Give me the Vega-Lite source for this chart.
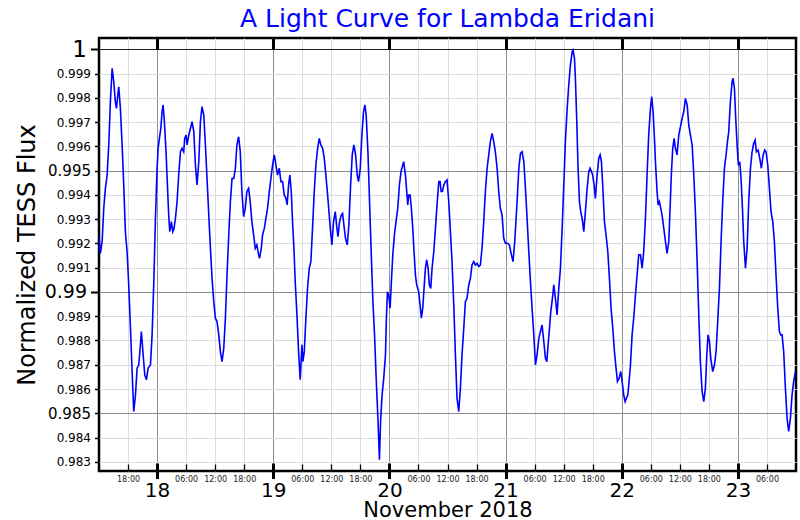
{
  "$schema": "https://vega.github.io/schema/vega-lite/v6.json",
  "width": 697,
  "height": 433,
  "autosize": {"type": "none"},
  "padding": {"left": 99, "top": 38, "right": 4, "bottom": 49},
  "background": "white",
  "title": {"text": "A Light Curve for Lambda Eridani", "font": "DejaVu Sans", "fontSize": 25, "fontWeight": "normal", "color": "#0000ff", "anchor": "middle", "frame": "group", "offset": 5},
  "config": {
    "view": {"stroke": "black", "strokeWidth": 2.5},
    "axis": {"labelFont": "DejaVu Sans", "titleFont": "DejaVu Sans", "labelColor": "black", "titleColor": "black", "titleFontWeight": "normal", "tickColor": "black", "labelFlush": false, "labelOverlap": false}
  },
  "resolve": {"axis": {"x": "independent"}},
  "layer": [
    {
      "data": {"values": [
{"day":17.501,"flux":0.99228},{"day":17.512,"flux":0.99159},{"day":17.527,"flux":0.99208},{"day":17.541,"flux":0.99345},{"day":17.555,"flux":0.99427},{"day":17.570,"flux":0.99482},{"day":17.584,"flux":0.99606},{"day":17.598,"flux":0.99784},{"day":17.613,"flux":0.99922},{"day":17.627,"flux":0.99867},{"day":17.641,"flux":0.99784},{"day":17.650,"flux":0.99757},{"day":17.662,"flux":0.99812},{"day":17.670,"flux":0.99846},{"day":17.684,"flux":0.99757},{"day":17.699,"flux":0.99606},{"day":17.713,"flux":0.99441},{"day":17.727,"flux":0.99249},{"day":17.742,"flux":0.99166},{"day":17.756,"flux":0.99029},{"day":17.771,"flux":0.98850},{"day":17.785,"flux":0.98672},{"day":17.799,"flux":0.98507},{"day":17.814,"flux":0.98576},{"day":17.828,"flux":0.98686},{"day":17.842,"flux":0.98699},{"day":17.854,"flux":0.98768},{"day":17.865,"flux":0.98837},{"day":17.880,"flux":0.98741},{"day":17.894,"flux":0.98658},{"day":17.908,"flux":0.98638},{"day":17.923,"flux":0.98686},{"day":17.943,"flux":0.98699},{"day":17.957,"flux":0.98823},{"day":17.971,"flux":0.99029},{"day":17.986,"flux":0.99304},
{"day":18.000,"flux":0.99510},{"day":18.009,"flux":0.99592},{"day":18.020,"flux":0.99633},{"day":18.032,"flux":0.99674},{"day":18.043,"flux":0.99743},{"day":18.052,"flux":0.99771},{"day":18.063,"flux":0.99702},{"day":18.077,"flux":0.99578},{"day":18.089,"flux":0.99441},{"day":18.100,"flux":0.99317},{"day":18.109,"flux":0.99249},{"day":18.123,"flux":0.99290},{"day":18.135,"flux":0.99249},{"day":18.146,"flux":0.99262},{"day":18.158,"flux":0.99304},{"day":18.172,"flux":0.99372},{"day":18.186,"flux":0.99482},{"day":18.201,"flux":0.99578},{"day":18.215,"flux":0.99592},{"day":18.229,"flux":0.99578},{"day":18.238,"flux":0.99633},{"day":18.250,"flux":0.99647},{"day":18.258,"flux":0.99606},{"day":18.273,"flux":0.99647},{"day":18.287,"flux":0.99674},{"day":18.301,"flux":0.99702},{"day":18.316,"flux":0.99661},{"day":18.330,"flux":0.99523},{"day":18.344,"flux":0.99441},{"day":18.359,"flux":0.99537},{"day":18.373,"flux":0.99702},{"day":18.387,"flux":0.99764},{"day":18.402,"flux":0.99729},{"day":18.416,"flux":0.99606},{"day":18.430,"flux":0.99468},{"day":18.445,"flux":0.99317},{"day":18.459,"flux":0.99180},{"day":18.473,"flux":0.99056},{"day":18.488,"flux":0.98960},{"day":18.502,"flux":0.98892},{"day":18.516,"flux":0.98878},{"day":18.531,"flux":0.98823},{"day":18.545,"flux":0.98754},{"day":18.559,"flux":0.98713},{"day":18.574,"flux":0.98768},{"day":18.588,"flux":0.98892},{"day":18.602,"flux":0.99070},{"day":18.617,"flux":0.99235},{"day":18.631,"flux":0.99372},{"day":18.645,"flux":0.99468},{"day":18.660,"flux":0.99468},{"day":18.674,"flux":0.99510},
{"day":18.687,"flux":0.99606},{"day":18.702,"flux":0.99640},{"day":18.716,"flux":0.99578},{"day":18.730,"flux":0.99414},{"day":18.745,"flux":0.99311},{"day":18.759,"flux":0.99345},{"day":18.773,"flux":0.99414},{"day":18.788,"flux":0.99427},{"day":18.802,"flux":0.99372},{"day":18.816,"flux":0.99290},{"day":18.831,"flux":0.99235},{"day":18.845,"flux":0.99180},{"day":18.859,"flux":0.99194},{"day":18.874,"flux":0.99153},{"day":18.882,"flux":0.99139},{"day":18.897,"flux":0.99180},{"day":18.908,"flux":0.99235},{"day":18.923,"flux":0.99262},{"day":18.937,"flux":0.99304},{"day":18.951,"flux":0.99345},{"day":18.966,"flux":0.99414},{"day":18.980,"flux":0.99468},{"day":18.994,"flux":0.99523},{"day":19.009,"flux":0.99565},{"day":19.023,"flux":0.99523},{"day":19.037,"flux":0.99482},{"day":19.052,"flux":0.99510},{"day":19.066,"flux":0.99455},{"day":19.080,"flux":0.99455},{"day":19.095,"flux":0.99400},{"day":19.109,"flux":0.99386},{"day":19.120,"flux":0.99359},{"day":19.132,"flux":0.99441},{"day":19.143,"flux":0.99482},{"day":19.155,"flux":0.99414},{"day":19.166,"flux":0.99290},{"day":19.178,"flux":0.99180},{"day":19.189,"flux":0.99043},{"day":19.204,"flux":0.98905},{"day":19.218,"flux":0.98754},{"day":19.232,"flux":0.98638},{"day":19.241,"flux":0.98727},{"day":19.247,"flux":0.98782},{"day":19.255,"flux":0.98713},{"day":19.267,"flux":0.98754},{"day":19.281,"flux":0.98892},{"day":19.295,"flux":0.99015},{"day":19.310,"flux":0.99098},{"day":19.324,"flux":0.99125},{"day":19.338,"flux":0.99262},{"day":19.353,"flux":0.99414},{"day":19.367,"flux":0.99523},{"day":19.382,"flux":0.99592},{"day":19.396,"flux":0.99633},{"day":19.410,"flux":0.99606},{"day":19.425,"flux":0.99592},{"day":19.439,"flux":0.99551},{"day":19.453,"flux":0.99482},{"day":19.468,"flux":0.99400},{"day":19.482,"flux":0.99317},{"day":19.496,"flux":0.99235},{"day":19.505,"flux":0.99194},{"day":19.519,"flux":0.99290},{"day":19.534,"flux":0.99331},{"day":19.548,"flux":0.99262},{"day":19.557,"flux":0.99228},{"day":19.571,"flux":0.99290},{"day":19.585,"flux":0.99317},{"day":19.597,"flux":0.99324},{"day":19.608,"flux":0.99276},{"day":19.622,"flux":0.99221},{"day":19.637,"flux":0.99194},{"day":19.651,"flux":0.99276},{"day":19.666,"flux":0.99441},{"day":19.680,"flux":0.99565},{"day":19.694,"flux":0.99606},{"day":19.709,"flux":0.99565},{"day":19.723,"flux":0.99482},{"day":19.734,"flux":0.99455},{"day":19.749,"flux":0.99510},{"day":19.763,"flux":0.99647},{"day":19.777,"flux":0.99743},{"day":19.789,"flux":0.99771},{"day":19.800,"flux":0.99729},{"day":19.815,"flux":0.99578},{"day":19.829,"flux":0.99372},{"day":19.843,"flux":0.99166},{"day":19.858,"flux":0.98960},{"day":19.872,"flux":0.98823},{"day":19.886,"flux":0.98644},{"day":19.901,"flux":0.98480},
{"day":19.914,"flux":0.98308},{"day":19.925,"flux":0.98480},{"day":19.937,"flux":0.98576},{"day":19.951,"flux":0.98644},{"day":19.966,"flux":0.98741},{"day":19.974,"flux":0.98892},{"day":19.983,"flux":0.99001},{"day":19.994,"flux":0.98988},{"day":20.006,"flux":0.98933},{"day":20.017,"flux":0.99043},{"day":20.029,"flux":0.99153},{"day":20.043,"flux":0.99235},{"day":20.057,"flux":0.99290},{"day":20.072,"flux":0.99345},{"day":20.086,"flux":0.99441},{"day":20.100,"flux":0.99496},{"day":20.115,"flux":0.99523},{"day":20.123,"flux":0.99537},{"day":20.138,"flux":0.99482},{"day":20.149,"flux":0.99414},{"day":20.158,"flux":0.99359},{"day":20.166,"flux":0.99400},{"day":20.178,"flux":0.99400},{"day":20.189,"flux":0.99345},{"day":20.201,"flux":0.99262},{"day":20.212,"flux":0.99166},{"day":20.224,"flux":0.99070},{"day":20.235,"flux":0.99029},{"day":20.252,"flux":0.99001},{"day":20.264,"flux":0.98947},{"day":20.275,"flux":0.98892},{"day":20.287,"flux":0.98933},{"day":20.298,"flux":0.99015},{"day":20.310,"flux":0.99098},{"day":20.321,"flux":0.99132},{"day":20.333,"flux":0.99098},{"day":20.344,"flux":0.99029},{"day":20.356,"flux":0.99015},{"day":20.367,"flux":0.99098},{"day":20.382,"flux":0.99166},{"day":20.396,"flux":0.99262},{"day":20.410,"flux":0.99359},{"day":20.425,"flux":0.99455},{"day":20.436,"flux":0.99455},{"day":20.445,"flux":0.99414},{"day":20.456,"flux":0.99414},{"day":20.468,"flux":0.99441},{"day":20.482,"flux":0.99455},{"day":20.496,"flux":0.99462},{"day":20.511,"flux":0.99372},{"day":20.525,"flux":0.99249},{"day":20.539,"flux":0.99125},{"day":20.554,"flux":0.98947},{"day":20.568,"flux":0.98741},{"day":20.582,"flux":0.98562},{"day":20.597,"flux":0.98507},{"day":20.611,"flux":0.98603},{"day":20.625,"flux":0.98741},{"day":20.640,"flux":0.98850},{"day":20.654,"flux":0.98960},{"day":20.668,"flux":0.98974},{"day":20.683,"flux":0.99029},{"day":20.697,"flux":0.99056},{"day":20.711,"flux":0.99111},{"day":20.726,"flux":0.99125},{"day":20.740,"flux":0.99111},{"day":20.754,"flux":0.99118},{"day":20.769,"flux":0.99105},{"day":20.783,"flux":0.99111},{"day":20.797,"flux":0.99180},{"day":20.812,"flux":0.99290},{"day":20.826,"flux":0.99414},{"day":20.841,"flux":0.99510},{"day":20.855,"flux":0.99565},{"day":20.869,"flux":0.99620},{"day":20.884,"flux":0.99654},{"day":20.898,"flux":0.99620},{"day":20.912,"flux":0.99578},{"day":20.927,"flux":0.99510},{"day":20.941,"flux":0.99414},{"day":20.955,"flux":0.99345},{"day":20.970,"flux":0.99317},{"day":20.984,"flux":0.99221},{"day":20.998,"flux":0.99201},{"day":21.015,"flux":0.99201},{"day":21.033,"flux":0.99194},{"day":21.050,"flux":0.99153},{"day":21.064,"flux":0.99125},{"day":21.079,"flux":0.99208},
{"day":21.099,"flux":0.99372},{"day":21.114,"flux":0.99510},{"day":21.128,"flux":0.99571},{"day":21.142,"flux":0.99578},{"day":21.157,"flux":0.99537},{"day":21.171,"flux":0.99427},{"day":21.185,"flux":0.99304},{"day":21.200,"flux":0.99166},{"day":21.214,"flux":0.99043},{"day":21.228,"flux":0.98933},{"day":21.243,"flux":0.98823},{"day":21.257,"flux":0.98699},{"day":21.271,"flux":0.98741},{"day":21.286,"flux":0.98809},{"day":21.300,"flux":0.98837},{"day":21.314,"flux":0.98864},{"day":21.329,"flux":0.98796},{"day":21.343,"flux":0.98727},{"day":21.355,"flux":0.98713},{"day":21.366,"flux":0.98782},{"day":21.378,"flux":0.98850},{"day":21.389,"flux":0.98919},{"day":21.400,"flux":0.98960},{"day":21.415,"flux":0.99029},{"day":21.429,"flux":0.98974},{"day":21.443,"flux":0.98905},{"day":21.458,"flux":0.99015},{"day":21.472,"flux":0.99098},{"day":21.487,"flux":0.99262},{"day":21.501,"flux":0.99441},{"day":21.515,"flux":0.99620},{"day":21.530,"flux":0.99757},{"day":21.544,"flux":0.99853},{"day":21.558,"flux":0.99935},{"day":21.573,"flux":0.99990},{"day":21.581,"flux":0.99997},{"day":21.593,"flux":0.99963},{"day":21.601,"flux":0.99881},{"day":21.613,"flux":0.99702},{"day":21.624,"flux":0.99510},{"day":21.636,"flux":0.99372},{"day":21.647,"flux":0.99331},{"day":21.659,"flux":0.99304},{"day":21.673,"flux":0.99249},{"day":21.687,"flux":0.99331},{"day":21.702,"flux":0.99427},{"day":21.716,"flux":0.99496},{"day":21.727,"flux":0.99510},{"day":21.739,"flux":0.99496},{"day":21.750,"flux":0.99482},{"day":21.762,"flux":0.99441},{"day":21.773,"flux":0.99386},{"day":21.788,"flux":0.99482},{"day":21.802,"flux":0.99551},{"day":21.814,"flux":0.99565},{"day":21.825,"flux":0.99537},{"day":21.836,"flux":0.99441},{"day":21.851,"flux":0.99290},{"day":21.865,"flux":0.99235},{"day":21.880,"flux":0.99166},{"day":21.894,"flux":0.99056},{"day":21.908,"flux":0.98933},{"day":21.923,"flux":0.98850},{"day":21.937,"flux":0.98754},{"day":21.951,"flux":0.98686},{"day":21.963,"flux":0.98631},{"day":21.977,"flux":0.98644},{"day":21.991,"flux":0.98672},{"day":22.003,"flux":0.98631},{"day":22.017,"flux":0.98576},{"day":22.029,"flux":0.98548},{"day":22.040,"flux":0.98562},{"day":22.052,"flux":0.98576},{"day":22.063,"flux":0.98631},{"day":22.075,"flux":0.98699},{"day":22.089,"flux":0.98823},{"day":22.103,"flux":0.98892},{"day":22.118,"flux":0.98988},{"day":22.132,"flux":0.99070},{"day":22.146,"flux":0.99153},{"day":22.161,"flux":0.99153},{"day":22.175,"flux":0.99098},{"day":22.189,"flux":0.99166},{"day":22.204,"flux":0.99304},{"day":22.218,"flux":0.99482},{"day":22.232,"flux":0.99647},{"day":22.247,"flux":0.99757},{"day":22.258,"flux":0.99805},{"day":22.270,"flux":0.99743},{"day":22.284,"flux":0.99606},{"day":22.290,"flux":0.99537},
{"day":22.304,"flux":0.99414},{"day":22.313,"flux":0.99359},{"day":22.324,"flux":0.99372},{"day":22.336,"flux":0.99345},{"day":22.347,"flux":0.99317},{"day":22.362,"flux":0.99262},{"day":22.376,"flux":0.99208},{"day":22.390,"flux":0.99159},{"day":22.405,"flux":0.99208},{"day":22.416,"flux":0.99345},{"day":22.428,"flux":0.99496},{"day":22.439,"flux":0.99592},{"day":22.451,"flux":0.99633},{"day":22.462,"flux":0.99592},{"day":22.476,"flux":0.99565},{"day":22.491,"flux":0.99647},{"day":22.505,"flux":0.99681},{"day":22.520,"flux":0.99716},{"day":22.534,"flux":0.99743},{"day":22.548,"flux":0.99798},{"day":22.563,"flux":0.99771},{"day":22.577,"flux":0.99688},{"day":22.591,"flux":0.99647},{"day":22.606,"flux":0.99606},{"day":22.620,"flux":0.99482},{"day":22.634,"flux":0.99331},{"day":22.649,"flux":0.99125},{"day":22.663,"flux":0.98905},{"day":22.677,"flux":0.98713},{"day":22.692,"flux":0.98589},{"day":22.706,"flux":0.98548},{"day":22.720,"flux":0.98603},{"day":22.732,"flux":0.98741},{"day":22.743,"flux":0.98823},{"day":22.755,"flux":0.98796},{"day":22.766,"flux":0.98727},{"day":22.783,"flux":0.98672},{"day":22.798,"flux":0.98699},{"day":22.812,"flux":0.98754},{"day":22.826,"flux":0.98878},{"day":22.841,"flux":0.99015},{"day":22.855,"flux":0.99208},{"day":22.869,"flux":0.99372},{"day":22.884,"flux":0.99510},{"day":22.898,"flux":0.99565},{"day":22.910,"flux":0.99620},{"day":22.921,"flux":0.99661},{"day":22.935,"flux":0.99784},{"day":22.950,"flux":0.99867},{"day":22.958,"flux":0.99881},{"day":22.970,"flux":0.99839},{"day":22.981,"flux":0.99716},{"day":22.993,"flux":0.99606},{"day":23.004,"flux":0.99523},{"day":23.016,"flux":0.99537},{"day":23.027,"flux":0.99468},{"day":23.039,"flux":0.99345},{"day":23.050,"flux":0.99208},{"day":23.065,"flux":0.99098},{"day":23.079,"flux":0.99180},{"day":23.093,"flux":0.99372},{"day":23.108,"flux":0.99510},{"day":23.122,"flux":0.99578},{"day":23.136,"flux":0.99613},{"day":23.148,"flux":0.99626},{"day":23.159,"flux":0.99578},{"day":23.174,"flux":0.99585},{"day":23.188,"flux":0.99551},{"day":23.202,"flux":0.99510},{"day":23.217,"flux":0.99565},{"day":23.231,"flux":0.99585},{"day":23.242,"flux":0.99578},{"day":23.257,"flux":0.99523},{"day":23.271,"flux":0.99427},{"day":23.285,"flux":0.99331},{"day":23.300,"flux":0.99290},{"day":23.314,"flux":0.99208},{"day":23.328,"flux":0.99070},{"day":23.343,"flux":0.98933},{"day":23.357,"flux":0.98837},{"day":23.369,"flux":0.98823},{"day":23.380,"flux":0.98823},{"day":23.394,"flux":0.98754},{"day":23.409,"flux":0.98603},{"day":23.423,"flux":0.98480},{"day":23.437,"flux":0.98425},{"day":23.452,"flux":0.98480},{"day":23.466,"flux":0.98576},{"day":23.480,"flux":0.98631},{"day":23.495,"flux":0.98672}
      ]},
      "mark": {"type": "line", "color": "#0000ff", "strokeWidth": 1.6, "clip": true},
      "encoding": {
        "x": {"field": "day", "type": "quantitative", "scale": {"domain": [17.5, 23.5], "nice": false, "zero": false},
          "axis": {"orient": "bottom", "values": [17.75, 18.25, 18.5, 18.75, 19.25, 19.5, 19.75, 20.25, 20.5, 20.75, 21.25, 21.5, 21.75, 22.25, 22.5, 22.75, 23.25], "grid": true, "gridColor": "#dcdcdc", "gridWidth": 1, "ticks": true, "tickSize": -7, "tickWidth": 1.3, "labels": false, "domain": false, "title": null}},
        "y": {"field": "flux", "type": "quantitative", "scale": {"domain": [0.98262, 1.00047], "nice": false, "zero": false},
          "axis": {"orient": "left", "values": [0.983, 0.984, 0.985, 0.986, 0.987, 0.988, 0.989, 0.99, 0.991, 0.992, 0.993, 0.994, 0.995, 0.996, 0.997, 0.998, 0.999, 1], "format": "~g", "domain": false,
            "grid": true,
            "gridColor": {"condition": [{"test": "abs(datum.value-1)<1e-6", "value": "#222222"}, {"test": "abs(datum.value-0.99)<1e-6 || abs(datum.value-0.995)<1e-6 || abs(datum.value-0.985)<1e-6", "value": "#8c8c8c"}], "value": "#dcdcdc"},
            "tickSize": {"condition": {"test": "abs(datum.value-1)<1e-6 || abs(datum.value-0.99)<1e-6", "value": 8.5}, "value": 4.5},
            "tickWidth": {"condition": {"test": "abs(datum.value-1)<1e-6 || abs(datum.value-0.99)<1e-6", "value": 2}, "value": 1.5},
            "labelFontSize": {"condition": [{"test": "abs(datum.value-1)<1e-6", "value": 23}, {"test": "abs(datum.value-0.99)<1e-6", "value": 19}, {"test": "abs(datum.value-0.995)<1e-6 || abs(datum.value-0.985)<1e-6", "value": 15}], "value": 12},
            "labelPadding": 4,
            "title": "Normalized TESS Flux", "titleFontSize": 24, "titleAngle": -90, "titleX": -65, "titleY": 216.5, "titleBaseline": "alphabetic", "titleAlign": "center"}}
      }
    },
    {
      "data": {"values": [{"day": 18}, {"day": 19}, {"day": 20}, {"day": 21}, {"day": 22}, {"day": 23}]},
      "mark": {"type": "point", "opacity": 0},
      "encoding": {
        "x": {"field": "day", "type": "quantitative", "scale": {"domain": [17.5, 23.5], "nice": false, "zero": false},
          "axis": {"orient": "bottom", "values": [17.75, 18.25, 18.5, 18.75, 19.25, 19.5, 19.75, 20.25, 20.5, 20.75, 21.25, 21.5, 21.75, 22.25, 22.5, 22.75, 23.25], "grid": false, "ticks": false, "tickSize": 0, "labels": true, "labelExpr": "(datum.value % 1) < 0.3 ? '06:00' : ((datum.value % 1) < 0.6 ? '12:00' : '18:00')", "labelFontSize": 8, "labelPadding": 4.5, "labelColor": "#222222", "domain": false, "title": null}}
      }
    },
    {
      "data": {"values": [{"day": 18}, {"day": 19}, {"day": 20}, {"day": 21}, {"day": 22}, {"day": 23}]},
      "mark": {"type": "point", "opacity": 0},
      "encoding": {
        "x": {"field": "day", "type": "quantitative", "scale": {"domain": [17.5, 23.5], "nice": false, "zero": false},
          "axis": {"orient": "bottom", "values": [18, 19, 20, 21, 22, 23], "format": "d", "grid": true, "gridColor": "#8c8c8c", "gridWidth": 1, "ticks": true, "tickSize": 7.5, "tickWidth": 3, "labels": true, "labelFontSize": 20, "labelPadding": 2, "domain": false,
            "title": "November 2018", "titleFontSize": 21, "titleX": 348.5, "titleY": 45, "titleBaseline": "alphabetic", "titleAlign": "center"}}
      }
    },
    {
      "data": {"values": [{"day": 18}, {"day": 19}, {"day": 20}, {"day": 21}, {"day": 22}, {"day": 23}]},
      "mark": {"type": "point", "opacity": 0},
      "encoding": {
        "x": {"field": "day", "type": "quantitative", "scale": {"domain": [17.5, 23.5], "nice": false, "zero": false},
          "axis": {"orient": "bottom", "values": [18, 19, 20, 21, 22, 23], "grid": false, "ticks": true, "tickSize": -8, "tickWidth": 3, "labels": false, "domain": false, "title": null}}
      }
    },
    {
      "data": {"values": [{"day": 18}, {"day": 19}, {"day": 20}, {"day": 21}, {"day": 22}, {"day": 23}]},
      "mark": {"type": "point", "opacity": 0},
      "encoding": {
        "x": {"field": "day", "type": "quantitative", "scale": {"domain": [17.5, 23.5], "nice": false, "zero": false},
          "axis": {"orient": "top", "values": [18, 19, 20, 21, 22, 23], "grid": false, "ticks": true, "tickSize": -11, "tickWidth": 3, "labels": false, "domain": false, "title": null}}
      }
    }
  ]
}
